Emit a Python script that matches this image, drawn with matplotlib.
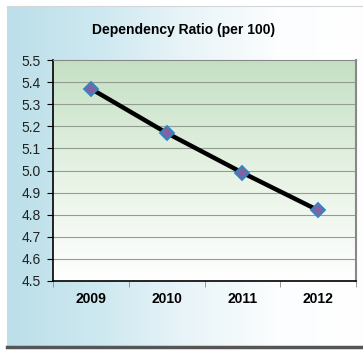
import numpy as np
import matplotlib.pyplot as plt
from matplotlib.colors import LinearSegmentedColormap

plt.rcParams["font.family"] = ["Liberation Sans", "DejaVu Sans"]

# data
years = ["2009", "2010", "2011", "2012"]
ratio = [5.37, 5.17, 4.99, 4.82]
y_ticks = [4.5, 4.6, 4.7, 4.8, 4.9, 5.0, 5.1, 5.2, 5.3, 5.4, 5.5]

fig = plt.figure(figsize=(3.63, 3.53), dpi=100)
fig.patch.set_facecolor("white")

# background panel: light blue on the left fading to white
bg = fig.add_axes([7 / 363, 1 - 347 / 353, 356 / 363, 341 / 353])
bg_cmap = LinearSegmentedColormap.from_list("bg", ["#bcdfe9", "#cde8f0", "#e8f4f8", "#fbfdfe", "#ffffff"])
grad = np.linspace(0, 1, 256).reshape(1, -1)
bg.imshow(grad, aspect="auto", cmap=bg_cmap, extent=[0, 1, 0, 1])
bg.set_xticks([])
bg.set_yticks([])
for s in bg.spines.values():
    s.set_color("#d0d8dc")
    s.set_linewidth(0.8)
bg.spines["bottom"].set_color("#555555")
bg.spines["bottom"].set_linewidth(2.5)

# plot area
ax = fig.add_axes([53 / 363, 1 - 281 / 353, 303 / 363, 221 / 353])
ax.set_xlim(-0.5, 3.5)
ax.set_ylim(4.5, 5.5)
pa_cmap = LinearSegmentedColormap.from_list("pa", ["#ffffff", "#e6f2e4", "#c4e0c3"])
vgrad = np.linspace(0, 1, 256).reshape(-1, 1)
ax.imshow(vgrad, aspect="auto", cmap=pa_cmap, origin="lower",
          extent=[-0.5, 3.5, 4.5, 5.5], zorder=0)

for t in y_ticks[1:-1]:
    ax.axhline(t, color="#939e93", linewidth=0.8, zorder=1)

ax.plot(range(len(years)), ratio, color="black", linewidth=3.2, zorder=3)
ax.plot(range(len(years)), ratio, linestyle="none", marker="D", markersize=7,
        markerfacecolor="#8064a2", markeredgecolor="#2e86c8", markeredgewidth=1.3, zorder=4)

ax.set_yticks(y_ticks)
ax.set_yticklabels([f"{v:.1f}" for v in y_ticks], fontsize=10, color="#222222")
ax.set_xticks(range(len(years)))
ax.set_xticklabels(years, fontsize=10, fontweight="bold")
ax.set_xticks(np.arange(-0.5, 4, 1), minor=True)
ax.tick_params(axis="x", which="major", length=0, pad=8)
ax.tick_params(axis="x", which="minor", length=4, color="#888888")
ax.tick_params(axis="y", length=4, pad=5)

ax.spines["left"].set_color("black")
ax.spines["bottom"].set_color("black")
ax.spines["left"].set_linewidth(1.2)
ax.spines["bottom"].set_linewidth(1.2)
ax.spines["top"].set_color("#888888")
ax.spines["right"].set_color("#888888")
ax.spines["right"].set_linewidth(1.5)

fig.text(184 / 363, 1 - 30 / 353, "Dependency Ratio (per 100)", ha="center", va="center",
         fontsize=10, fontweight="bold")

fig.savefig("out.png", dpi=100)
